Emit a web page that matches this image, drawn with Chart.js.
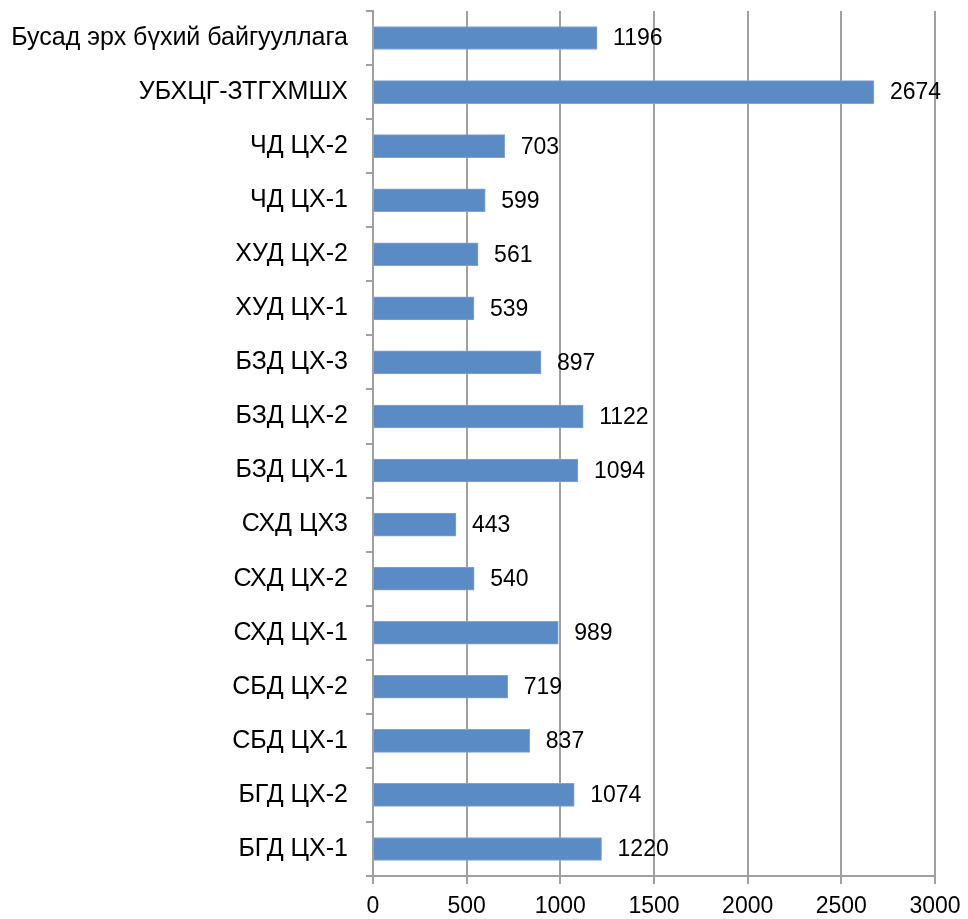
<!DOCTYPE html>
<html>
<head>
<meta charset="UTF-8">
<title>Bar chart</title>
<script src="https://cdn.jsdelivr.net/npm/chart.js"></script>
<style>
  html, body { margin: 0; padding: 0; background: #fff; }
  #wrap { width: 968px; height: 919px; }
</style>
</head>
<body>
<div id="wrap"><canvas id="chart" width="968" height="919"></canvas></div>
<script>
// categories, top to bottom
var categories = [
  'Бусад эрх бүхий байгууллага',
  'УБХЦГ-ЗТГХМШХ',
  'ЧД ЦХ-2',
  'ЧД ЦХ-1',
  'ХУД ЦХ-2',
  'ХУД ЦХ-1',
  'БЗД ЦХ-3',
  'БЗД ЦХ-2',
  'БЗД ЦХ-1',
  'СХД ЦХ3',
  'СХД ЦХ-2',
  'СХД ЦХ-1',
  'СБД ЦХ-2',
  'СБД ЦХ-1',
  'БГД ЦХ-2',
  'БГД ЦХ-1'
];
var values = [1196, 2674, 703, 599, 561, 539, 897, 1122, 1094, 443, 540, 989, 719, 837, 1074, 1220];
var xTicks = [0, 500, 1000, 1500, 2000, 2500, 3000];

var fontFamily = '"Liberation Sans", Arial, sans-serif';

// draws the value next to each bar end
var valueLabels = {
  id: 'valueLabels',
  afterDatasetsDraw: function(chart) {
    var ctx = chart.ctx;
    var meta = chart.getDatasetMeta(0);
    ctx.save();
    ctx.font = '23px ' + fontFamily;
    ctx.fillStyle = '#000';
    ctx.textAlign = 'left';
    ctx.textBaseline = 'middle';
    meta.data.forEach(function(bar, i) {
      ctx.fillText(String(values[i]), bar.x + 16, bar.y + 1);
    });
    ctx.restore();
  }
};

var ctx = document.getElementById('chart').getContext('2d');
var chart = new Chart(ctx, {
  type: 'bar',
  data: {
    labels: categories,
    datasets: [{
      data: values,
      backgroundColor: '#5B8BC5',
      borderColor: '#7FA4D4',
      borderWidth: 1,
      barThickness: 23
    }]
  },
  options: {
    indexAxis: 'y',
    responsive: false,
    animation: false,
    layout: { padding: { top: 11, right: 33, bottom: 0, left: 0 } },
    plugins: {
      legend: { display: false },
      tooltip: { enabled: false }
    },
    scales: {
      x: {
        min: 0,
        max: 3000,
        afterBuildTicks: function(scale) {
          scale.ticks = xTicks.map(function(v) { return { value: v }; });
        },
        afterFit: function(scale) {
          scale.height = 43;
          scale.paddingRight = 0;
          scale.paddingLeft = 0;
        },
        grid: {
          color: '#A0A0A0',
          lineWidth: 2,
          drawTicks: true,
          tickLength: 8
        },
        border: { color: '#A0A0A0', width: 2 },
        ticks: {
          color: '#000',
          padding: 9,
          font: { family: fontFamily, size: 23 },
          callback: function(v) { return String(v); }
        }
      },
      y: {
        afterFit: function(scale) {
          scale.width = 373;
          scale.paddingTop = 0;
          scale.paddingBottom = 0;
        },
        grid: {
          drawOnChartArea: false,
          color: '#A0A0A0',
          lineWidth: 2,
          tickLength: 7
        },
        border: { color: '#A0A0A0', width: 2 },
        ticks: {
          color: '#000',
          padding: 18,
          font: { family: fontFamily, size: 25 }
        }
      }
    }
  },
  plugins: [valueLabels]
});
</script>
</body>
</html>
